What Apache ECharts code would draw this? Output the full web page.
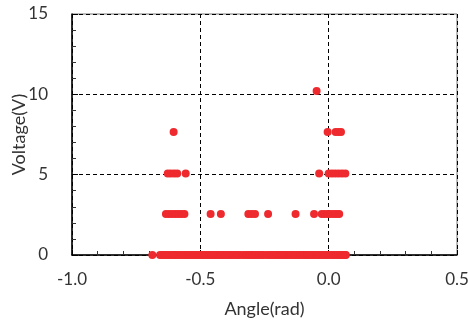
<!DOCTYPE html>
<html><head><meta charset="utf-8">
<script src="https://cdn.jsdelivr.net/npm/echarts@6/dist/echarts.min.js"></script>
<style>html,body{margin:0;padding:0;background:#fff}#c{width:468px;height:320px}</style>
</head><body><div id="c"></div>
<script>
// Data (x = angle in rad, y = voltage in V)
const level0X = [-0.687, -0.657, -0.648, -0.640, -0.631, -0.622, -0.613, -0.605, -0.596, -0.588, -0.579, -0.570, -0.561, -0.553, -0.544, -0.536, -0.527, -0.518, -0.510, -0.501, -0.492, -0.484, -0.475, -0.466, -0.458, -0.449, -0.440, -0.432, -0.423, -0.414, -0.406, -0.397, -0.388, -0.380, -0.371, -0.362, -0.354, -0.345, -0.333, -0.322, -0.313, -0.304, -0.296, -0.287, -0.278, -0.270, -0.261, -0.252, -0.240, -0.231, -0.222, -0.214, -0.205, -0.196, -0.188, -0.179, -0.170, -0.162, -0.153, -0.144, -0.136, -0.127, -0.118, -0.110, -0.101, -0.092, -0.084, -0.075, -0.066, -0.058, -0.049, -0.040, -0.032, -0.023, -0.014, -0.006, 0.003, 0.012, 0.020, 0.029, 0.038, 0.046, 0.055, 0.063, 0.067];
const level0Y = 0;
const level1X = [-0.634, -0.622, -0.610, -0.598, -0.586, -0.574, -0.562, -0.460, -0.420, -0.313, -0.300, -0.287, -0.236, -0.129, -0.057, -0.027, -0.015, -0.003, 0.008, 0.020, 0.031, 0.041];
const level1Y = 2.55;
const level2X = [-0.627, -0.615, -0.602, -0.590, -0.557, -0.037, 0.000, 0.013, 0.026, 0.039, 0.052, 0.065];
const level2Y = 5.08;
const level3X = [-0.604, -0.004, 0.027, 0.038, 0.048];
const level3Y = 7.65;
const level4X = [-0.047];
const level4Y = 10.2;

const xTicks = [-1.0, -0.5, 0.0, 0.5];
const yTicks = [0, 5, 10, 15];

const points = [];
[[level0X, level0Y], [level1X, level1Y], [level2X, level2Y], [level3X, level3Y], [level4X, level4Y]]
  .forEach(([xs, y]) => xs.forEach(x => points.push([x, y])));

const font = 'Lato, "Open Sans", sans-serif';
const chart = echarts.init(document.getElementById('c'), null, {renderer: 'canvas'});
chart.setOption({
  animation: false,
  grid: {left: 72, right: 11, top: 14, bottom: 65, containLabel: false, outerBoundsMode: 'none',
    show: true, borderColor: '#777', borderWidth: 1},
  xAxis: {
    type: 'value', min: xTicks[0], max: xTicks[xTicks.length - 1], interval: 0.5,
    name: 'Angle(rad)', nameLocation: 'middle', nameGap: 45, nameMoveOverlap: false,
    nameTextStyle: {fontFamily: font, fontSize: 18, color: '#333'},
    axisLine: {show: true, onZero: false, lineStyle: {color: '#000', width: 1.5}},
    axisTick: {show: true, inside: true, length: 5, lineStyle: {color: '#000'}},
    minorTick: {show: true, splitNumber: 5, length: 4, lineStyle: {color: '#333'}},
    axisLabel: {fontFamily: font, fontSize: 17, color: '#333', margin: 16,
      formatter: v => v.toFixed(1)},
    splitLine: {show: true, lineStyle: {color: '#000', type: [4, 3], width: 1}}
  },
  yAxis: {
    type: 'value', min: yTicks[0], max: yTicks[yTicks.length - 1], interval: 5,
    name: 'Voltage(V)', nameLocation: 'middle', nameGap: 44, nameMoveOverlap: false,
    nameTextStyle: {fontFamily: font, fontSize: 18, color: '#333'},
    axisLine: {show: true, onZero: false, lineStyle: {color: '#000', width: 1.5}},
    axisTick: {show: true, inside: true, length: 6, lineStyle: {color: '#000'}},
    minorTick: {show: true, splitNumber: 5, length: 4, lineStyle: {color: '#333'}},
    axisLabel: {fontFamily: font, fontSize: 17, color: '#333', margin: 24},
    splitLine: {show: true, lineStyle: {color: '#000', type: [4, 3], width: 1}}
  },
  series: [{
    type: 'scatter', data: points, symbolSize: 8,
    itemStyle: {color: '#EE2A2E', opacity: 1}
  }]
});
</script></body></html>
